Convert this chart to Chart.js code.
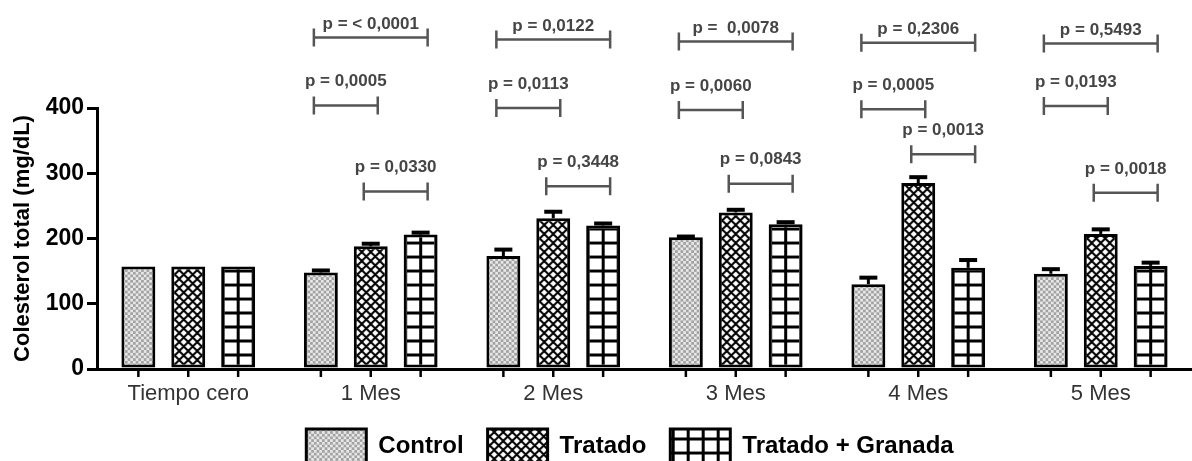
<!DOCTYPE html>
<html>
<head>
<meta charset="utf-8">
<script src="https://cdn.jsdelivr.net/npm/chart.js@4/dist/chart.umd.min.js"></script>
<style>
  html, body { margin: 0; padding: 0; background: #fff; overflow: hidden; }
  #wrap { width: 1192px; height: 461px; }
</style>
</head>
<body>
<div id="wrap"><canvas id="colChart" width="1192" height="461"></canvas></div>
<script>
const categories = ['Tiempo cero', '1 Mes', '2 Mes', '3 Mes', '4 Mes', '5 Mes'];
const seriesNames = ['Control', 'Tratado', 'Tratado + Granada'];
const controlValues = [157, 148, 173, 202, 130, 146];
const tratadoValues = [157, 188, 231, 240, 285, 207];
const granadaValues = [157, 206, 220, 222, 155, 158];
const controlErr = [0, 3, 10, 1, 10, 7];
const tratadoErr = [0, 4, 10, 4, 9, 7];
const granadaErr = [0, 3, 3, 3, 12, 5];
const yTicks = [0, 100, 200, 300, 400];

// p-value brackets: [category, from bar, to bar, y level (mg/dL), label]
const brackets = [
  [1, 0, 2, 508, 'p = < 0,0001'], [1, 0, 1, 404, 'p = 0,0005'], [1, 1, 2, 272, 'p = 0,0330'],
  [2, 0, 2, 505, 'p = 0,0122'], [2, 0, 1, 400, 'p = 0,0113'], [2, 1, 2, 280, 'p = 0,3448'],
  [3, 0, 2, 502, 'p =  0,0078'], [3, 0, 1, 397, 'p = 0,0060'], [3, 1, 2, 284, 'p = 0,0843'],
  [4, 0, 2, 500, 'p = 0,2306'], [4, 0, 1, 398, 'p = 0,0005'], [4, 1, 2, 329, 'p = 0,0013'],
  [5, 0, 2, 499, 'p = 0,5493'], [5, 0, 1, 403, 'p = 0,0193'], [5, 1, 2, 270, 'p = 0,0018']
];

const FONT = '"Liberation Sans", Arial, sans-serif';
const CAT_PCT = 0.82;

function makeTile(w, h, draw) {
  const c = document.createElement('canvas');
  c.width = w; c.height = h;
  const g = c.getContext('2d');
  g.fillStyle = '#fff';
  g.fillRect(0, 0, w, h);
  draw(g);
  return c;
}

// fine stipple for Control
const dotTile = makeTile(6, 6, (g) => {
  g.fillStyle = '#e8e8e8'; g.fillRect(0, 0, 6, 6);
  g.fillStyle = '#a2a2a2';
  g.fillRect(0, 0, 3, 3); g.fillRect(3, 3, 3, 3);
});
// diagonal crosshatch for Tratado
const crossTile = makeTile(9, 9, (g) => {
  g.strokeStyle = '#000'; g.lineWidth = 2;
  for (let k = -1; k <= 1; k++) {
    g.beginPath(); g.moveTo(k * 9, 0); g.lineTo(k * 9 + 9, 9); g.stroke();
    g.beginPath(); g.moveTo(k * 9 + 9, 0); g.lineTo(k * 9, 9); g.stroke();
  }
});
// square grid for Tratado + Granada
const gridTile = makeTile(15, 14, (g) => {
  g.fillStyle = '#000';
  g.fillRect(0, 0, 3, 14);
  g.fillRect(0, 0, 15, 3);
});

const patCtx = document.createElement('canvas').getContext('2d');
function barCenter(chart, di, i) {
  const xs = chart.scales.x;
  const catW = xs.width / categories.length;
  return xs.getPixelForValue(i) + (di - 1) * catW * CAT_PCT / 3;
}
function patternFor(tile, dx, dy, scale) {
  return (c) => {
    const p = patCtx.createPattern(tile, 'repeat');
    const chart = c.chart;
    if (chart.scales && chart.scales.x && c.dataIndex !== undefined) {
      const cx = barCenter(chart, c.datasetIndex, c.dataIndex);
      const base = chart.scales.y.getPixelForValue(0);
      p.setTransform(new DOMMatrix([scale, 0, 0, scale, cx + dx, base + dy]));
    }
    return p;
  };
}

const errors = [controlErr, tratadoErr, granadaErr];

const extrasPlugin = {
  id: 'extras',
  afterLayout(chart) {
    // legend sits right of centre in the original figure
    chart.legend.left += 32;
    chart.legend.right += 32;
  },
  afterDatasetsDraw(chart) {
    const ctx = chart.ctx;
    const y = chart.scales.y;
    const area = chart.chartArea;
    ctx.save();
    // error bars (upper only)
    chart.data.datasets.forEach((ds, di) => {
      const meta = chart.getDatasetMeta(di);
      meta.data.forEach((bar, i) => {
        const err = errors[di][i];
        if (!err) return;
        const top = y.getPixelForValue(ds.data[i] + err);
        ctx.strokeStyle = '#000';
        ctx.lineWidth = 3;
        ctx.beginPath(); ctx.moveTo(bar.x, bar.y); ctx.lineTo(bar.x, top); ctx.stroke();
        ctx.lineWidth = 4;
        ctx.beginPath(); ctx.moveTo(bar.x - 9, top); ctx.lineTo(bar.x + 9, top); ctx.stroke();
      });
    });
    // small ticks under each bar
    chart.data.datasets.forEach((ds, di) => {
      chart.getDatasetMeta(di).data.forEach((bar) => {
        ctx.strokeStyle = '#000'; ctx.lineWidth = 2.5;
        ctx.beginPath(); ctx.moveTo(bar.x, area.bottom); ctx.lineTo(bar.x, area.bottom + 8); ctx.stroke();
      });
    });
    // significance brackets
    ctx.strokeStyle = '#555';
    ctx.fillStyle = '#454545';
    ctx.font = 'bold 17px ' + FONT;
    ctx.textAlign = 'center';
    ctx.textBaseline = 'middle';
    brackets.forEach(([cat, from, to, level, label]) => {
      const x1 = chart.getDatasetMeta(from).data[cat].x - 7;
      const x2 = chart.getDatasetMeta(to).data[cat].x + 7;
      const py = y.getPixelForValue(level);
      ctx.lineWidth = 2.5;
      ctx.beginPath();
      ctx.moveTo(x1, py); ctx.lineTo(x2, py);
      ctx.moveTo(x1, py - 9); ctx.lineTo(x1, py + 9);
      ctx.moveTo(x2, py - 9); ctx.lineTo(x2, py + 9);
      ctx.stroke();
      const gap = (to - from === 2) ? 13 : 24;
      ctx.fillText(label, (x1 + x2) / 2, py - gap);
    });
    ctx.restore();
  }
};

const ctx = document.getElementById('colChart').getContext('2d');

new Chart(ctx, {
  type: 'bar',
  data: {
    labels: categories,
    datasets: [
      { label: seriesNames[0], data: controlValues, backgroundColor: patternFor(dotTile, 0, 0, 0.9) },
      { label: seriesNames[1], data: tratadoValues, backgroundColor: patternFor(crossTile, 0, 0, 1) },
      { label: seriesNames[2], data: granadaValues, backgroundColor: patternFor(gridTile, -1.5, -1.5, 1) }
    ].map(d => Object.assign(d, {
      borderColor: '#000',
      borderWidth: 3,
      borderSkipped: false,
      categoryPercentage: CAT_PCT,
      barPercentage: 0.68
    }))
  },
  options: {
    responsive: false,
    animation: false,
    layout: { padding: { top: 108, left: 4, right: 0, bottom: -12 } },
    plugins: {
      legend: {
        position: 'bottom',
        labels: {
          boxWidth: 60,
          boxHeight: 34,
          padding: 24,
          color: '#000',
          font: { family: FONT, size: 24, weight: 'bold' }
        }
      },
      tooltip: { enabled: false }
    },
    scales: {
      x: {
        grid: { display: false },
        border: { color: '#000', width: 3 },
        ticks: {
          color: '#333',
          padding: 4,
          font: { family: FONT, size: 22 }
        },
        afterFit: (s) => { s.height = 36; }
      },
      y: {
        min: 0,
        max: 400,
        afterBuildTicks: (s) => { s.ticks = yTicks.map(v => ({ value: v })); },
        grid: { drawOnChartArea: false, drawTicks: true, tickLength: 10, lineWidth: 3, color: '#000' },
        border: { color: '#000', width: 3 },
        ticks: {
          color: '#000',
          padding: 3,
          font: { family: FONT, size: 23, weight: 'bold' }
        },
        title: {
          display: true,
          text: 'Colesterol total (mg/dL)',
          color: '#000',
          padding: { top: 6, bottom: 4 },
          font: { family: FONT, size: 22, weight: 'bold' }
        },
        afterFit: (s) => { s.width = 93; }
      }
    }
  },
  plugins: [extrasPlugin]
});
</script>
</body>
</html>
